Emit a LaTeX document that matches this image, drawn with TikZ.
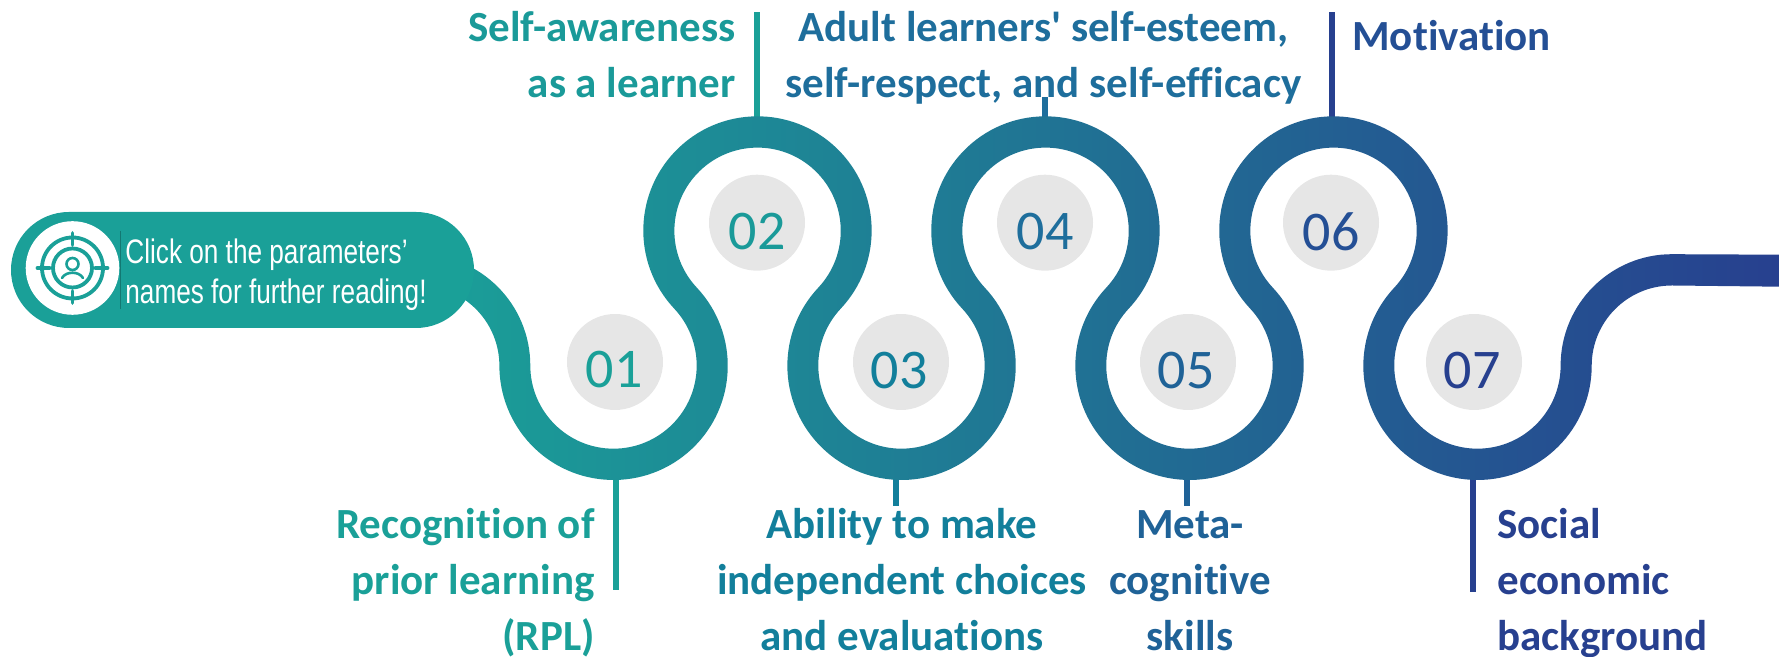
\documentclass[tikz,border=0pt]{standalone}
\usepackage{fontspec}
\setmainfont{Carlito}[Ligatures=CommonOff]
\newfontfamily\narrowfont[FakeStretch=0.77]{Liberation Sans}

\definecolor{teal01}{HTML}{1AA098}
\definecolor{teal02}{HTML}{1A9A99}
\definecolor{teal03}{HTML}{127F9B}
\definecolor{blue04}{HTML}{1E6E9C}
\definecolor{blue05}{HTML}{1F6297}
\definecolor{blue06}{HTML}{244F95}
\definecolor{blue07}{HTML}{27408F}
\definecolor{midband}{HTML}{22789A}
\definecolor{greydisc}{HTML}{E6E6E6}

\tikzset{
    disc/.style={circle, fill=greydisc, minimum size=48pt, inner sep=0pt},
    num/.style={font=\fontsize{28}{28}\selectfont, inner sep=0pt},
    lab/.style={font=\fontsize{21.5}{28}\selectfont\bfseries, inner sep=0pt},
    tick/.style={line width=3pt},
    iconline/.style={draw=teal01, line width=1.9pt, line cap=round},
}

\begin{document}
\begin{tikzpicture}[x=0.5pt,y=0.5pt]
                \useasboundingbox (0,0) rectangle (1779,657);

                % ticks, under the band
                \coordinate (t01a) at (616,179);
                \coordinate (t01b) at (616,67);
                \coordinate (t02a) at (757,540);
                \coordinate (t02b) at (757,645);
                \coordinate (t03a) at (896,179);
                \coordinate (t03b) at (896,151);
                \coordinate (t04a) at (1045,539);
                \coordinate (t04b) at (1045,560);
                \coordinate (t05a) at (1187,179);
                \coordinate (t05b) at (1187,151);
                \coordinate (t06a) at (1331.5,540);
                \coordinate (t06b) at (1331.5,645);
                \coordinate (t07a) at (1473,179);
                \coordinate (t07b) at (1473,65);

                \draw[tick, teal01] (t01a) -- (t01b);
                \draw[tick, teal01] (t02a) -- (t02b);
                \draw[tick, teal03] (t03a) -- (t03b);
                \draw[tick, blue04] (t04a) -- (t04b);
                \draw[tick, blue05] (t05a) -- (t05b);
                \draw[tick, blue07] (t06a) -- (t06b);
                \draw[tick, blue07] (t07a) -- (t07b);

                % band: one side there, the other side back
                \shade[left color=teal01, middle color=midband, right color=blue07]
                (419,402.8)
                arc (90:0:111.3)
                arc (180:403.152:83.19)
                arc (223.152:-43.152:114.19)
                arc (136.848:403.152:83.19)
                arc (223.152:-43.152:114.19)
                arc (136.848:403.152:83.19)
                arc (223.152:-43.152:114.19)
                arc (136.848:360:83.19)
                arc (180:90:111.3)
                -- (1779,402.3) -- (1779,370.3) -- (1672,371.5)
                arc (90:180:80.3)
                arc (360:136.848:114.19)
                arc (-43.152:223.152:83.19)
                arc (403.152:136.848:114.19)
                arc (-43.152:223.152:83.19)
                arc (403.152:136.848:114.19)
                arc (-43.152:223.152:83.19)
                arc (403.152:180:114.19)
                arc (0:90:80.3)
                -- cycle;

                \node[disc] (c01) at (615,295)    {};
                \node[disc] (c02) at (757,434.3)  {};
                \node[disc] (c03) at (901,295)    {};
                \node[disc] (c04) at (1045,434.3) {};
                \node[disc] (c05) at (1188,295)   {};
                \node[disc] (c06) at (1331,434.3) {};
                \node[disc] (c07) at (1474,295)   {};

                \node[num, text=teal01] (n01) at (614,287)    {01};
                \node[num, text=teal02] (n02) at (757,425)    {02};
                \node[num, text=teal03] (n03) at (899,286)    {03};
                \node[num, text=blue04] (n04) at (1045,425)   {04};
                \node[num, text=blue05] (n05) at (1186,286)   {05};
                \node[num, text=blue06] (n06) at (1331,425)   {06};
                \node[num, text=blue07] (n07) at (1472,286)   {07};

                \node[lab, text=teal01, anchor=north east, align=right] (l01) at (595,158)
                    {\strut Recognition of\\\strut prior learning\\\strut (RPL)};
                \node[lab, text=teal02, anchor=north east, align=right] (l02) at (736,655)
                    {\strut Self-awareness\\\strut as a learner};
                \node[lab, text=teal03, anchor=north, align=center] (l03) at (902,158)
                    {\strut Ability to make\\\strut independent choices\\\strut and evaluations};
                \node[lab, text=blue04, anchor=north, align=center] (l04) at (1043.5,655)
                    {\strut Adult learners\textquotesingle\ self-esteem,\\\strut self-respect, and self-efficacy};
                \node[lab, text=blue05, anchor=north, align=center] (l05) at (1190,158)
                    {\strut Meta-\\\strut cognitive\\\strut skills};
                \node[lab, text=blue06, anchor=north west, align=left] (l06) at (1352,646)
                    {\strut Motivation};
                \node[lab, text=blue07, anchor=north west, align=left] (l07) at (1497,158)
                    {\strut Social\\\strut economic\\\strut background};

                % pill with the target icon
                \node[fill=teal01, minimum width=231.5pt, minimum height=58pt, rounded corners=29pt,
                      inner sep=0pt] (pill) at (242.5,387) {};
                \node[circle, fill=white, minimum size=46.8pt, inner sep=0pt] (icon) at (72.5,389) {};
                \draw[teal01!75!black, line width=0.3pt] (120.7,426) -- (120.7,348);
                \draw[iconline] (72.5,389) circle (30.5);
                \draw[iconline] (72.5,389) circle (19.5);
                \draw[iconline] (72.5,424) -- (72.5,412);
                \draw[iconline] (72.5,354) -- (72.5,366);
                \draw[iconline] (37.5,389) -- (49.5,389);
                \draw[iconline] (107.5,389) -- (95.5,389);
                \draw[iconline, line width=1.3pt] (72.5,393) circle (6);
                \draw[iconline, line width=1.3pt] (62,379) .. controls (66,386) and (79,386) .. (83,379);

                \node[text=white, anchor=west, align=left, inner sep=0pt,
                      font=\narrowfont\fontsize{17}{20}\selectfont] (note) at (125,382)
                    {Click on the parameters’\\names for further reading!};
\end{tikzpicture}
\end{document}
